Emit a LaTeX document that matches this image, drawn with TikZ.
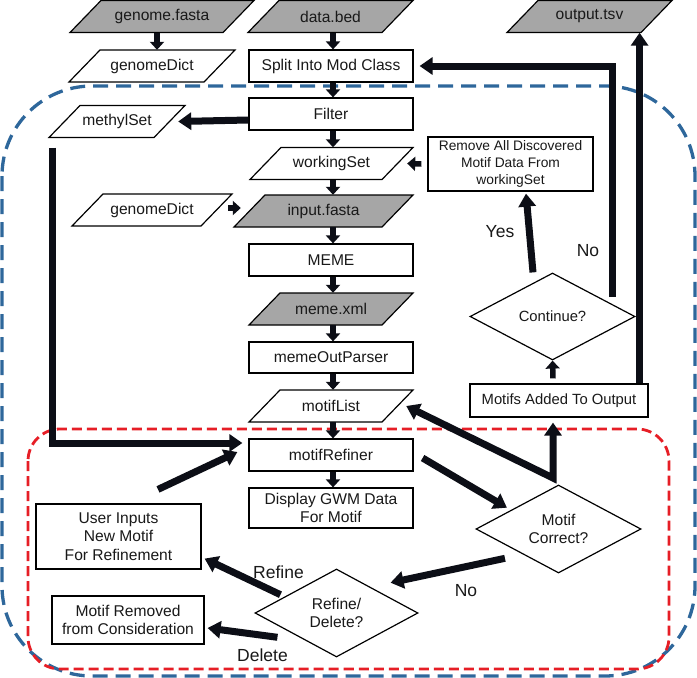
\documentclass[tikz,border=0pt]{standalone}
\usepackage{fontspec}
\setmainfont{Liberation Sans}
\usetikzlibrary{arrows.meta,shapes.geometric}
\definecolor{iogray}{RGB}{166,166,166}
\definecolor{dblue}{RGB}{46,103,155}
\definecolor{dred}{RGB}{230,30,38}
\definecolor{txtc}{RGB}{25,25,25}
\definecolor{arrc}{RGB}{12,14,22}
\newcommand{\fsA}{\fontsize{15.6}{18.5}\selectfont}
\newcommand{\fsB}{\fontsize{14.8}{17}\selectfont}
\newcommand{\fsC}{\fontsize{13.8}{16.7}\selectfont}
\newcommand{\fsL}{\fontsize{17.5}{20}\selectfont}
\tikzset{
  proc/.style={draw=black, line width=1.2pt, fill=white, rectangle, inner sep=0pt, align=center, font=\fsA, text=txtc},
  dec/.style={draw=black, diamond, line width=1.2pt, fill=white, inner sep=0pt, aspect=1.9, align=center, font=\fsA, text=txtc},
  iotext/.style={inner sep=0pt, minimum height=32pt, align=center, font=\fsA, text=txtc},
  iobord/.style={draw=black, line width=1.2pt},
  lbl/.style={font=\fsL, inner sep=0pt, text=txtc},
  sarr/.style={draw=arrc, line width=5.5pt, -{Triangle[width=14pt,length=8pt]}},
  barr/.style={draw=arrc, line width=7pt, -{Triangle[width=17pt,length=13pt]}},
  bluebox/.style={draw=dblue, line width=3.3pt, dash pattern=on 15pt off 8pt, rounded corners=90pt},
  redbox/.style={draw=dred, line width=2.8pt, dash pattern=on 10pt off 5pt, rounded corners=32pt},
}
% name, cx, cy, full width, fill, text
\newcommand{\iop}[6]{%
  \path[iobord, fill=#5] ({#2-#4/2},{#3+16}) -- ({#2+#4/2-31},{#3+16}) -- ({#2+#4/2},{#3-16}) -- ({#2-#4/2+31},{#3-16}) -- cycle;
  \node[iotext, minimum width=#4pt] (#1) at (#2,#3) {#6};
}
\begin{document}
\begin{tikzpicture}[x=1pt,y=-1pt]
\useasboundingbox (0,0) rectangle (697,678);
% dashed regions
\draw[bluebox] (2,86) rectangle (695,676);
\draw[redbox] (28,429) rectangle (669,669);

% input/output parallelograms
\iop{gfasta}{162}{16.5}{184}{iogray}{genome.fasta}
\iop{databed}{330.5}{16.5}{165}{iogray}{data.bed}
\iop{output}{589.5}{16.5}{165}{iogray}{output.tsv}
\iop{gdictA}{152}{66}{166}{white}{genomeDict}
\iop{methyl}{117}{121.5}{136}{white}{methylSet}
\iop{working}{331.5}{163.5}{163}{white}{workingSet}
\iop{gdictB}{152}{210}{160}{white}{genomeDict}
\iop{input}{323.5}{211}{179}{iogray}{input.fasta}
\iop{memexml}{331}{309}{164}{iogray}{meme.xml}
\iop{motiflist}{331}{406}{164}{white}{motifList}

% process boxes
\node[proc, minimum width=164pt, minimum height=32pt] (split) at (331,66) {Split Into Mod Class};
\node[proc, minimum width=164pt, minimum height=32pt] (filter) at (331,114) {Filter};
\node[proc, minimum width=164pt, minimum height=32pt] (meme) at (331,260) {MEME};
\node[proc, minimum width=164pt, minimum height=31pt] (parser) at (331,357.5) {memeOutParser};
\node[proc, minimum width=164pt, minimum height=32pt] (refiner) at (331,455) {motifRefiner};
\node[proc, minimum width=164pt, minimum height=40pt] (display) at (331,508) {Display GWM Data\\For Motif};
\node[proc, minimum width=165pt, minimum height=54pt, font=\fsC] (remove) at (510.5,164) {Remove All Discovered\\Motif Data From\\workingSet};
\node[proc, minimum width=178pt, minimum height=33pt, font=\fsB] (added) at (559,400.5) {Motifs Added To Output};
\node[proc, minimum width=165pt, minimum height=65pt] (user) at (118.5,536.5) {User Inputs\\New Motif\\For Refinement};
\node[proc, minimum width=152pt, minimum height=48pt] (removed) at (128,620) {Motif Removed\\from Consideration};

% decisions
\node[dec, minimum width=165pt, minimum height=87pt, font=\fsB] (cont) at (552.5,316.5) {Continue?};
\node[dec, minimum width=165pt, minimum height=88pt] (correct) at (558.5,529) {Motif\\Correct?};
\node[dec, minimum width=163pt, minimum height=88pt] (refdel) at (336.5,613) {Refine/\\Delete?};

% small arrows
\draw[sarr] ([xshift=-5pt]gfasta.south) -- ([xshift=5pt]gdictA.north);
\draw[sarr] ([xshift=2.5pt]databed.south) -- ([xshift=2pt]split.north);
\draw[sarr] ([xshift=2pt]split.south) -- ([xshift=2pt]filter.north);
\draw[sarr] ([xshift=2pt]filter.south) -- ([xshift=1.5pt]working.north);
\draw[sarr] ([xshift=1.5pt]working.south) -- ([xshift=9.5pt]input.north);
\draw[sarr] ([xshift=9.5pt]input.south) -- ([xshift=2pt]meme.north);
\draw[sarr] ([xshift=2pt]meme.south) -- ([xshift=2pt]memexml.north);
\draw[sarr] ([xshift=2pt]memexml.south) -- ([xshift=2pt]parser.north);
\draw[sarr] ([xshift=2pt]parser.south) -- ([xshift=2pt]motiflist.north);
\draw[sarr] ([xshift=2pt]motiflist.south) -- ([xshift=2pt]refiner.north);
\draw[sarr] ([xshift=2pt]refiner.south) -- ([xshift=2pt]display.north);
\draw[sarr] ([xshift=-4pt,yshift=2pt]gdictB.east) -- ([xshift=7pt,yshift=3pt]input.west);
\draw[sarr] ([xshift=-6pt]remove.west) -- ([xshift=-6pt]working.east);
\draw[sarr] ([xshift=-6pt,yshift=5pt]added.north) -- (cont.south);

% big connectors
\draw[barr] ([yshift=-6pt]filter.west) -- ([xshift=-7pt]methyl.east);
\draw[barr] ([xshift=-65pt,yshift=-10pt]methyl.south) |- ([xshift=-6pt,yshift=12pt]refiner.west);
\draw[barr] ([xshift=-19.5pt]cont.north) -- ([xshift=15.5pt,yshift=-2pt]remove.south);
\coordinate (noBase) at ([xshift=-23pt,yshift=20pt]cont.east);
\draw[barr] (noBase) |- ([xshift=6pt]split.east);
\coordinate (outBase) at ([xshift=-9pt]added.north east);
\draw[barr] (outBase) -- (outBase |- output.south);
\coordinate (vcorner) at (553,478);
\draw[barr, {Triangle[width=17pt,length=13pt]}-{Triangle[width=17pt,length=13pt]}] ([xshift=-7pt]motiflist.east) -- (vcorner) -- ([xshift=-6pt,yshift=-5pt]added.south);
\draw[barr] ([xshift=9pt,yshift=-3pt]refiner.east) -- ([xshift=-10pt,yshift=-1pt]correct.north west);
\draw[barr] ([xshift=-12pt,yshift=-7pt]correct.south west) -- ([xshift=13pt,yshift=8pt]refdel.north east);
\draw[barr] ([xshift=-15pt,yshift=-4pt]refdel.north west) -- ([xshift=3pt,yshift=11pt]user.south east);
\draw[barr] ([xshift=-18pt,yshift=-2pt]refdel.south west) -- ([xshift=3pt,yshift=-8pt]removed.east);
\draw[barr] ([xshift=39.5pt,yshift=14pt]user.north) -- ([xshift=-11pt,yshift=3pt]refiner.west);

% labels
\node[lbl] (lyes) at (500,232) {Yes};
\node[lbl] (lno) at (588,251) {No};
\node[lbl] (lno2) at (466,591) {No};
\node[lbl] (lref) at (278.5,572) {Refine};
\node[lbl] (ldel) at (262.5,655) {Delete};
\end{tikzpicture}
\end{document}
